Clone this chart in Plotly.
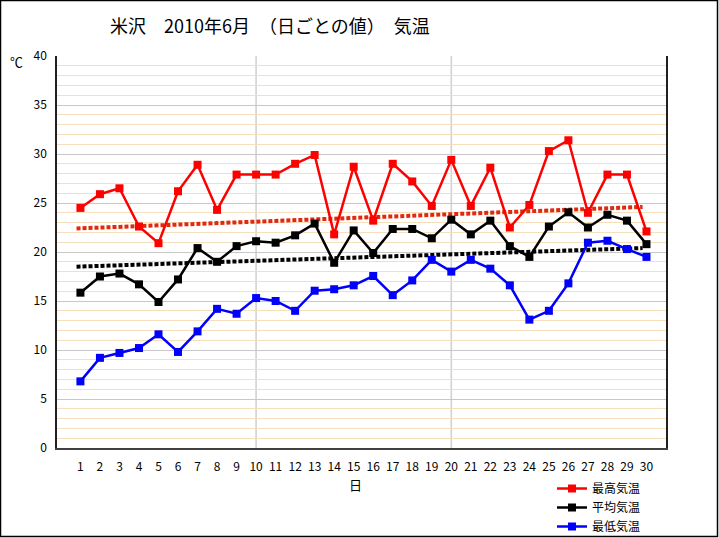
import plotly.graph_objects as go

days = list(range(1, 31))
tmax = [24.5, 25.9, 26.5, 22.6, 20.9, 26.2, 28.9, 24.3, 27.9, 27.9,
        27.9, 29.0, 29.9, 21.8, 28.7, 23.2, 29.0, 27.2, 24.7, 29.4,
        24.7, 28.6, 22.5, 24.8, 30.3, 31.4, 24.0, 27.9, 27.9, 22.1]
tmean = [15.85, 17.5, 17.8, 16.7, 14.9, 17.2, 20.4, 19.0, 20.6, 21.1,
         20.95, 21.7, 22.9, 18.9, 22.2, 19.9, 22.35, 22.35, 21.4, 23.3,
         21.8, 23.2, 20.6, 19.5, 22.6, 24.05, 22.5, 23.8, 23.2, 20.8]
tmin = [6.8, 9.2, 9.7, 10.2, 11.6, 9.8, 11.9, 14.2, 13.7, 15.3,
        15.0, 14.0, 16.05, 16.2, 16.6, 17.55, 15.6, 17.1, 19.2, 18.0,
        19.2, 18.3, 16.6, 13.1, 14.0, 16.8, 20.95, 21.15, 20.3, 19.5]
trend_x = [0.8, 29.8]
trend_max = [22.4, 24.6]
trend_mean = [18.5, 20.4]

names = ["最高気温", "平均気温", "最低気温"]
colors = ["#FF0000", "#000000", "#0000FF"]

FONT = "Noto Sans CJK JP"

fig = go.Figure()
# trend lines
fig.add_trace(go.Scatter(x=trend_x, y=trend_max, mode="lines", showlegend=False,
                         line=dict(color="#E02A10", width=4, dash="4px,2px"), hoverinfo="skip"))
fig.add_trace(go.Scatter(x=trend_x, y=trend_mean, mode="lines", showlegend=False,
                         line=dict(color="#000000", width=4, dash="4px,2px"), hoverinfo="skip"))
for ys, n, c in zip([tmax, tmean, tmin], names, colors):
    fig.add_trace(go.Scatter(x=days, y=ys, name=n, mode="lines+markers",
                             line=dict(color=c, width=2.5),
                             marker=dict(symbol="square", size=8, color=c)))

W, H = 719, 538
L, R, T, B = 57, 53, 56, 90
pw, ph = W - L - R, H - T - B

def px_x(p):
    return (p - L) / pw

def px_y(p):
    return (H - B - p) / ph

shapes = []
for xv in [10, 20]:
    shapes.append(dict(type="line", xref="x", yref="paper", x0=xv, x1=xv, y0=0, y1=1,
                       line=dict(color="#D0D0D0", width=1.5), layer="below"))
# outer border
shapes.append(dict(type="rect", xref="paper", yref="paper",
                   x0=px_x(0.5), x1=px_x(W - 1.5), y0=px_y(0.5), y1=px_y(H - 1.5),
                   line=dict(color="#000000", width=1.5), layer="above"))

fig.update_layout(
    width=W, height=H,
    margin=dict(l=L, r=R, t=T, b=B, autoexpand=False),
    paper_bgcolor="white", plot_bgcolor="white",
    font=dict(family=FONT, size=12, color="#000000"),
    title=dict(text="米沢　2010年6月　（日ごとの値）　気温", font=dict(size=18, family=FONT),
               xref="container", x=110 / W, xanchor="left", yref="container", y=1 - 27 / H, yanchor="middle"),
    showlegend=True,
    legend=dict(x=px_x(552), y=px_y(474), xanchor="left", yanchor="top",
                font=dict(size=12, family=FONT), itemwidth=30, tracegroupgap=0,
                bgcolor="rgba(0,0,0,0)", borderwidth=0),
    shapes=shapes,
    annotations=[
        dict(text="℃", xref="paper", yref="paper", x=px_x(16), y=px_y(62), showarrow=False,
             xanchor="center", yanchor="middle", font=dict(size=13, family=FONT)),
        dict(text="日", xref="paper", yref="paper", x=px_x(355), y=px_y(484), showarrow=False,
             xanchor="center", yanchor="middle", font=dict(size=13, family=FONT)),
    ],
)

fig.update_xaxes(range=[-0.2, 31], tickmode="array", tickvals=days, ticktext=[str(d) for d in days],
                 showgrid=False, zeroline=False, showline=True, linecolor="#404040", linewidth=1.5,
                 ticks="", ticklabelstandoff=7, tickfont=dict(size=12, family=FONT))
fig.update_yaxes(range=[0, 40], tickmode="linear", tick0=0, dtick=5,
                 showgrid=True, gridcolor="#C8C8C8", gridwidth=1.2, zeroline=False,
                 showline=True, linecolor="#202020", linewidth=1.5, mirror=True,
                 ticks="", ticklabelstandoff=6, tickfont=dict(size=12, family=FONT),
                 minor=dict(dtick=1, tick0=0, showgrid=True, gridcolor="#F6DFBC", gridwidth=1))

fig.write_html("out.html")
